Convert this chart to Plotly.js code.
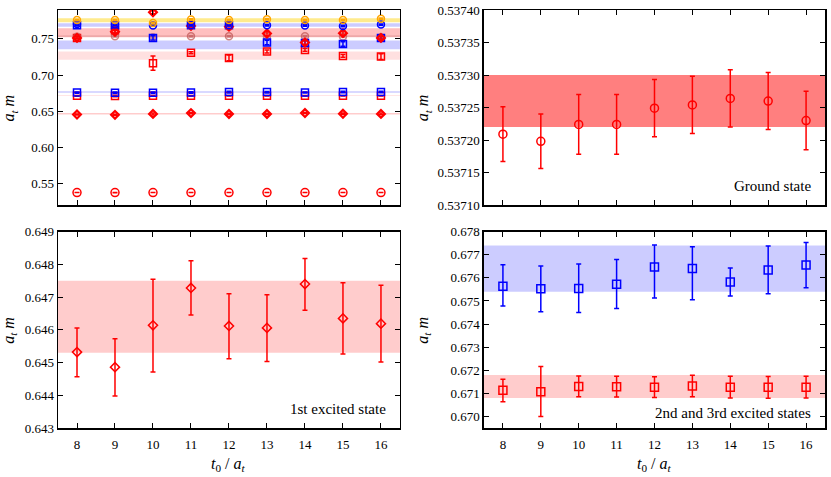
<!DOCTYPE html>
<html>
<head>
<meta charset="utf-8">
<script src="https://cdn.plot.ly/plotly-3.0.1.min.js"></script>
<style>html,body{margin:0;padding:0;background:#fff}#chart{width:831px;height:477px}</style>
</head>
<body>
<div id="chart"></div>
<script>
// ---------- data ----------
const t0 = [8, 9, 10, 11, 12, 13, 14, 15, 16];

// ground state
const groundM   = [0.537209, 0.537198, 0.537224, 0.537224, 0.537249, 0.537254, 0.537264, 0.537260, 0.537230];
const groundErr = [0.000042, 0.000042, 0.000046, 0.000046, 0.000044, 0.000044, 0.000044, 0.000044, 0.000045];
const groundBand = [0.53722, 0.53730];

// 1st excited state
const exc1M   = [0.64532, 0.64486, 0.64614, 0.64728, 0.64612, 0.64606, 0.64740, 0.64635, 0.64619];
const exc1Up  = [0.00074, 0.00087, 0.00141, 0.00083, 0.00098, 0.00101, 0.00078, 0.00109, 0.00117];
const exc1Dn  = [0.00075, 0.00088, 0.00143, 0.00083, 0.00100, 0.00103, 0.00080, 0.00109, 0.00117];
const exc1Band = [0.6453, 0.6475];

// 2nd excited state (red squares)
const exc2M  = [0.67113, 0.67107, 0.67130, 0.67129, 0.67127, 0.67132, 0.67127, 0.67126, 0.67127];
const exc2Up = [0.00048, 0.00109, 0.00045, 0.00045, 0.00045, 0.00046, 0.00047, 0.00047, 0.00047];
const exc2Dn = [0.00049, 0.00107, 0.00045, 0.00045, 0.00045, 0.00047, 0.00047, 0.00047, 0.00047];
const exc2Band = [0.6708, 0.6718];

// 3rd excited state (blue squares)
const exc3M  = [0.67564, 0.67553, 0.67554, 0.67572, 0.67647, 0.67641, 0.67582, 0.67634, 0.67656];
const exc3Up = [0.00093, 0.00098, 0.00106, 0.00108, 0.00095, 0.00094, 0.00061, 0.00104, 0.00097];
const exc3Dn = [0.00086, 0.00100, 0.00104, 0.00105, 0.00134, 0.00136, 0.00061, 0.00103, 0.00099];
const exc3Band = [0.6754, 0.6774];

// higher states (overview panel only)
const orangeM   = [0.7763, 0.7763, 0.7720, 0.7768, 0.7763, 0.7773, 0.7763, 0.7763, 0.7780];
const orangeErr = [0.0010, 0.0010, 0.0012, 0.0010, 0.0010, 0.0010, 0.0010, 0.0010, 0.0010];
const orangeBand = [0.7731, 0.7787];

const blueCircM   = [0.7705, 0.7700, 0.7687, 0.7690, 0.7690, 0.7690, 0.7685, 0.7680, 0.7698];
const blueCircErr = [0.0010, 0.0010, 0.0010, 0.0010, 0.0010, 0.0010, 0.0010, 0.0010, 0.0010];
const blueCircBand = [0.7670, 0.7717];

const redDiaM   = [0.7514, 0.7600, 0.7870, 0.7680, 0.7670, 0.7574, 0.7450, 0.7580, 0.7514];
const redDiaErr = [0.0015, 0.0020, 0.0020, 0.0030, 0.0040, 0.0030, 0.0030, 0.0030, 0.0020];
const redDiaBand = [0.7524, 0.7648];

const brownM   = [0.7530, 0.7537, 0.7520, 0.7537, 0.7537, 0.7532, 0.7537, 0.7532, 0.7520];
const brownErr = [0.0010, 0.0010, 0.0010, 0.0010, 0.0010, 0.0010, 0.0010, 0.0010, 0.0010];
const brownBand = [0.7525, 0.7550];

const blueSqM   = [0.7690, 0.7690, 0.7514, 0.7690, 0.7690, 0.7450, 0.7445, 0.7430, 0.7514];
const blueSqErr = [0.0010, 0.0010, 0.0030, 0.0010, 0.0010, 0.0030, 0.0030, 0.0030, 0.0020];
const blueSqBand = [0.7357, 0.7477];

const redSqM   = [0.7514, 0.7615, 0.7164, 0.7308, 0.7237, 0.7325, 0.7348, 0.7265, 0.7255];
const redSqErr = [0.0010, 0.0025, 0.0098, 0.0015, 0.0040, 0.0020, 0.0020, 0.0020, 0.0040];
const redSqBand = [0.7210, 0.7325];

// ---------- styling ----------
const RED = '#ff0000', BLUE = '#0000ff', ORANGE = '#ffa500', BROWN = 'rgba(190,80,80,0.7)';
const FONT = 'Liberation Serif, Times New Roman, serif';

function tr(x, y, xa, ya, color, symbol, size, errUp, errDn, lw) {
  const ey = {type: 'data', array: errUp, visible: true, color: color, thickness: 1.5, width: 2.5};
  if (errDn) { ey.symmetric = false; ey.arrayminus = errDn; }
  return {
    x: x, y: y, xaxis: xa, yaxis: ya, type: 'scatter', mode: 'markers',
    marker: {symbol: symbol, size: size, color: color, line: {color: color, width: lw || 1.5}},
    error_y: ey, showlegend: false, hoverinfo: 'x+y', cliponaxis: true
  };
}

const traces = [
  // overview panel (top-left)
  tr(t0, groundM, 'x', 'y', RED, 'circle-open', 8, groundErr),
  tr(t0, exc1M, 'x', 'y', RED, 'diamond-open', 6, exc1Up, exc1Dn, 2.2),
  tr(t0, exc2M, 'x', 'y', RED, 'square-open', 7, exc2Up, exc2Dn),
  tr(t0, exc3M, 'x', 'y', BLUE, 'square-open', 7, exc3Up, exc3Dn),
  tr(t0, redSqM, 'x', 'y', RED, 'square-open', 7, redSqErr),
  tr(t0, brownM, 'x', 'y', BROWN, 'circle-open', 7, brownErr),
  tr(t0, blueSqM, 'x', 'y', BLUE, 'square-open', 7, blueSqErr),
  tr(t0, redDiaM, 'x', 'y', RED, 'diamond-open', 6, redDiaErr, null, 2.2),
  tr(t0, blueCircM, 'x', 'y', BLUE, 'circle-open', 7, blueCircErr),
  tr(t0, orangeM, 'x', 'y', ORANGE, 'circle-open', 7, orangeErr),
  // ground state (top-right)
  tr(t0, groundM, 'x2', 'y2', RED, 'circle-open', 8, groundErr),
  // 1st excited (bottom-left)
  tr(t0, exc1M, 'x3', 'y3', RED, 'diamond-open', 7, exc1Up, exc1Dn),
  // 2nd & 3rd (bottom-right)
  tr(t0, exc3M, 'x4', 'y4', BLUE, 'square-open', 8, exc3Up, exc3Dn),
  tr(t0, exc2M, 'x4', 'y4', RED, 'square-open', 8, exc2Up, exc2Dn)
];

function band(b, xa, ya, color) {
  return {type: 'rect', xref: xa + ' domain', yref: ya, x0: 0, x1: 1, y0: b[0], y1: b[1],
          fillcolor: color, line: {width: 0}, layer: 'below'};
}
const PINK = 'rgba(255,0,0,0.2)', LBLUE = 'rgba(0,0,255,0.2)';
const shapes = [
  band(groundBand, 'x', 'y', PINK),
  band(exc1Band, 'x', 'y', PINK),
  band(exc2Band, 'x', 'y', PINK),
  band(exc3Band, 'x', 'y', LBLUE),
  band(redSqBand, 'x', 'y', 'rgba(255,0,0,0.12)'),
  band(blueSqBand, 'x', 'y', LBLUE),
  band(redDiaBand, 'x', 'y', 'rgba(255,0,0,0.25)'),
  band(brownBand, 'x', 'y', 'rgba(140,40,40,0.15)'),
  band(blueCircBand, 'x', 'y', LBLUE),
  band(orangeBand, 'x', 'y', 'rgba(255,210,0,0.45)'),
  band(groundBand, 'x2', 'y2', 'rgba(255,0,0,0.5)'),
  band(exc1Band, 'x3', 'y3', PINK),
  band(exc3Band, 'x4', 'y4', LBLUE),
  band(exc2Band, 'x4', 'y4', PINK)
];

const tickFont = {family: FONT, size: 13, color: '#000'};
function xax(domain, anchor, labels) {
  return {domain: domain, anchor: anchor, range: [7.5, 16.5], tickvals: t0,
          showticklabels: labels, ticks: 'inside', ticklen: 5, tickwidth: 1, tickcolor: '#000',
          showline: true, linecolor: '#000', linewidth: 1.5, mirror: 'ticks',
          showgrid: false, zeroline: false, tickfont: tickFont, ticklabelstandoff: 4};
}
function yax(domain, anchor, range, dtick, tick0, fmt) {
  return {domain: domain, anchor: anchor, range: range, dtick: dtick, tick0: tick0, tickformat: fmt,
          ticks: 'inside', ticklen: 5, tickwidth: 1, tickcolor: '#000',
          showline: true, linecolor: '#000', linewidth: 1.5, mirror: 'ticks',
          showgrid: false, zeroline: false, tickfont: tickFont};
}

const XL = [0.0698, 0.4813], XR = [0.5824, 0.9928];
const YT = [0.5702, 0.979], YB = [0.1027, 0.5143];

const titleFont = {family: FONT, size: 16, color: '#000'};
const ylab = '<i>a<sub>t</sub> m</i>';
const xlab = '<i>t</i><sub>0</sub> / <i>a<sub>t</sub></i>';
function ann(text, x, y, extra) {
  return Object.assign({text: text, xref: 'paper', yref: 'paper', x: x, y: y, showarrow: false,
                        xanchor: 'center', yanchor: 'middle', font: titleFont}, extra || {});
}
const stateFont = {family: FONT, size: 15, color: '#000'};
const annotations = [
  ann(ylab, 0.012, (YT[0] + YT[1]) / 2, {textangle: -90}),
  ann(ylab, 0.012, (YB[0] + YB[1]) / 2, {textangle: -90}),
  ann(ylab, 0.51, (YT[0] + YT[1]) / 2, {textangle: -90}),
  ann(ylab, 0.51, (YB[0] + YB[1]) / 2, {textangle: -90}),
  ann(xlab, (XL[0] + XL[1]) / 2, 0.027),
  ann(xlab, (XR[0] + XR[1]) / 2, 0.027),
  {text: 'Ground state', xref: 'x2 domain', yref: 'y2 domain', x: 0.965, y: 0.1, xanchor: 'right', yanchor: 'middle', showarrow: false, font: stateFont},
  {text: '1st excited state', xref: 'x3 domain', yref: 'y3 domain', x: 0.965, y: 0.095, xanchor: 'right', yanchor: 'middle', showarrow: false, font: stateFont},
  {text: '2nd and 3rd excited states', xref: 'x4 domain', yref: 'y4 domain', x: 0.965, y: 0.075, xanchor: 'right', yanchor: 'middle', showarrow: false, font: stateFont}
];

const layout = {
  width: 831, height: 477,
  margin: {l: 0, r: 0, t: 0, b: 0},
  paper_bgcolor: '#fff', plot_bgcolor: '#fff',
  font: {family: FONT, color: '#000'},
  showlegend: false,
  xaxis: xax(XL, 'y', false),
  yaxis: yax(YT, 'x', [0.52, 0.79], 0.05, 0.55, '.2f'),
  xaxis2: xax(XR, 'y2', false),
  yaxis2: yax(YT, 'x2', [0.53710, 0.53740], 0.00005, 0.53710, '.5f'),
  xaxis3: xax(XL, 'y3', true),
  yaxis3: yax(YB, 'x3', [0.643, 0.649], 0.001, 0.643, '.3f'),
  xaxis4: xax(XR, 'y4', true),
  yaxis4: yax(YB, 'x4', [0.6695, 0.678], 0.001, 0.670, '.3f'),
  shapes: shapes,
  annotations: annotations
};

Plotly.newPlot('chart', traces, layout, {displayModeBar: false, staticPlot: true});
</script>
</body>
</html>
